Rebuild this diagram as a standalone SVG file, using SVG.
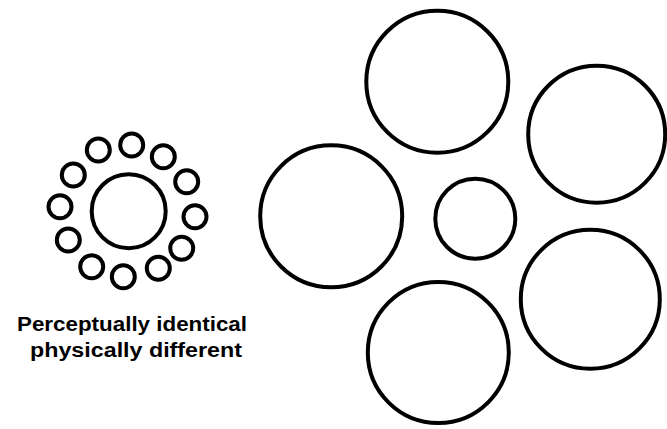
<svg xmlns="http://www.w3.org/2000/svg" width="667" height="429" viewBox="0 0 667 429">
<style>
circle{fill:none;stroke:#000;stroke-width:4}
.s{stroke-width:4}
text{font-family:"Liberation Sans",Arial,sans-serif;font-weight:bold;font-size:20px;fill:#000;text-anchor:middle}
</style>
<rect width="667" height="429" fill="#fff"/>
<g id="left-figure">
<circle cx="128.7" cy="211.2" r="37"/>
<g class="s">
<circle cx="98.3" cy="150" r="11.5"/>
<circle cx="131.7" cy="145" r="11.5"/>
<circle cx="163.3" cy="156.7" r="11.5"/>
<circle cx="186.7" cy="181.7" r="11.5"/>
<circle cx="195" cy="216.7" r="11.5"/>
<circle cx="181.7" cy="248.3" r="11.5"/>
<circle cx="158.3" cy="268.3" r="11.5"/>
<circle cx="123.3" cy="276.7" r="11.5"/>
<circle cx="91.7" cy="266.7" r="11.5"/>
<circle cx="68.3" cy="240" r="11.5"/>
<circle cx="60" cy="206.7" r="11.5"/>
<circle cx="73.3" cy="175" r="11.5"/>
</g>
</g>
<g id="caption">
<text x="132" y="331" textLength="230" lengthAdjust="spacingAndGlyphs">Perceptually identical</text>
<text x="136" y="357" textLength="212" lengthAdjust="spacingAndGlyphs">physically different</text>
</g>
<g id="right-figure">
<circle cx="475.3" cy="218.7" r="40"/>
<circle cx="437.3" cy="81.7" r="71"/>
<circle cx="596.7" cy="134.2" r="68.5"/>
<circle cx="331.2" cy="216.3" r="71"/>
<circle cx="590.3" cy="299.2" r="69.5"/>
<circle cx="438.3" cy="352.5" r="70.5"/>
</g>
</svg>
